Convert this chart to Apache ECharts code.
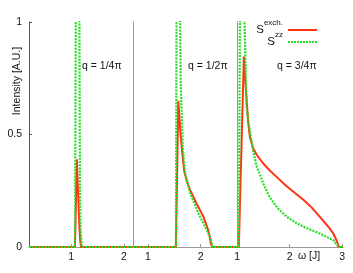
<!DOCTYPE html>
<html><head><meta charset="utf-8">
<script src="https://cdn.jsdelivr.net/npm/echarts@6/dist/echarts.min.js"></script>
<style>html,body{margin:0;padding:0;background:#fff}#c{width:353px;height:273px}</style>
</head><body><div id="c"></div>
<script>
// Panel labels and tick values
const panelLabels = ['q = 1/4π', 'q = 1/2π', 'q = 3/4π'];
const xTicks1 = [1, 2];
const xTicks2 = [1, 2];
const xTicks3 = [1, 2, 3];
const yTicks = [0, 0.5, 1];
const seriesNames = ['exch.', 'zz'];

// q = π/4  (ω [J], intensity)
const exch1 = [[0.2,0],[1.07,0],[1.107,0.39],[1.13,0.24],[1.155,0.09],[1.17,0.03],[1.185,0],[2.17,0]];
const zz1   = [[0.2,0],[1.07,0],[1.09,1.2],[1.12,4.0],[1.155,1.0],[1.165,0.3],[1.175,0.08],[1.2,0],[2.17,0]];
// q = π/2
const exch2 = [[0.72,0],[1.53,0],[1.577,0.65],[1.61,0.53],[1.64,0.446],[1.685,0.34],[1.74,0.29],[1.80,0.253],[1.92,0.194],[2.05,0.135],[2.14,0.076],[2.17,0.045],[2.19,0.016],[2.22,0],[2.68,0]];
const zz2   = [[0.72,0],[1.53,0],[1.545,1.2],[1.575,4.0],[1.61,1.0],[1.62,0.74],[1.66,0.446],[1.70,0.33],[1.736,0.30],[1.80,0.24],[1.955,0.15],[2.11,0.076],[2.18,0.04],[2.226,0],[2.68,0]];
// q = 3π/4
const exch3 = [[0.99,0],[1.03,0],[1.126,0.846],[1.164,0.70],[1.21,0.55],[1.24,0.49],[1.30,0.44],[1.37,0.41],[1.50,0.37],[1.62,0.34],[1.78,0.305],[1.94,0.27],[2.10,0.24],[2.26,0.21],[2.42,0.175],[2.57,0.135],[2.68,0.105],[2.76,0.083],[2.83,0.06],[2.89,0.03],[2.94,0],[3.01,0]];
const zz3   = [[0.99,0],[1.03,0],[1.05,1.0],[1.10,4.0],[1.14,1.0],[1.177,0.62],[1.228,0.535],[1.30,0.43],[1.37,0.357],[1.50,0.28],[1.62,0.22],[1.78,0.17],[1.94,0.135],[2.10,0.11],[2.26,0.09],[2.42,0.075],[2.57,0.06],[2.70,0.045],[2.83,0.03],[2.93,0],[3.01,0]];

const FONT = 'Liberation Sans, Arial, sans-serif';
const RED = '#ff3312';
const GREEN = '#22e022';
const chart = echarts.init(document.getElementById('c'), null, {renderer: 'canvas'});

const grids = [
  {left: 29, top: 22, width: 104, height: 225},
  {left: 133, top: 22, width: 104, height: 225},
  {left: 237, top: 22, width: 106, height: 225}
];
const ranges = [[0.2, 2.17], [0.72, 2.685], [0.995, 3.015]];
const ticks = [xTicks1, xTicks2, xTicks3];

const xAxes = ranges.map((r, i) => ({
  type: 'value', gridIndex: i, min: r[0], max: r[1],
  axisLine: {show: true, lineStyle: {color: '#999', width: 1}},
  axisTick: {show: true, inside: true, length: 3, customValues: ticks[i], lineStyle: {color: '#999'}},
  axisLabel: {show: true, customValues: ticks[i], margin: 5, color: '#111', fontSize: 10.5, fontFamily: FONT},
  splitLine: {show: false}
}));
const yAxes = [0, 1, 2].map(i => ({
  type: 'value', gridIndex: i, min: 0, max: 1, interval: 0.5,
  axisLine: {show: true, lineStyle: {color: i === 0 ? '#555' : '#999', width: 1}},
  axisTick: {show: i === 0, inside: true, length: 3, customValues: yTicks, lineStyle: {color: '#555'}},
  axisLabel: {show: i === 0, customValues: yTicks, margin: 7, color: '#111', fontSize: 10.5, fontFamily: FONT},
  splitLine: {show: false}
}));

const exData = [exch1, exch2, exch3];
const zzData = [zz1, zz2, zz3];
const series = [];
for (let i = 0; i < 3; i++) {
  series.push({type: 'line', name: seriesNames[0], xAxisIndex: i, yAxisIndex: i, data: exData[i],
    symbol: 'none', z: 2, clip: true, animation: false,
    lineStyle: {color: RED, width: 2}, itemStyle: {color: RED}});
  series.push({type: 'line', name: seriesNames[1], xAxisIndex: i, yAxisIndex: i, data: zzData[i],
    symbol: 'none', z: 3, clip: true, animation: false,
    lineStyle: {color: GREEN, width: 2.2, type: [2, 1.2]}, itemStyle: {color: GREEN}});
}

// legend sample icons: solid bar and dotted bar (29 x 2)
const solidIcon = 'path://M0,0h29v2h-29z';
let dots = '';
for (let x = 0; x < 28; x += 3) dots += 'M' + x + ',0h2v2h-2z';
const dottedIcon = 'path://' + dots;

const legend = {
  data: [{name: seriesNames[0], icon: solidIcon}, {name: seriesNames[1], icon: dottedIcon}],
  top: 19, right: 36, orient: 'vertical', align: 'right',
  padding: 0, itemGap: -10, itemWidth: 29, itemHeight: 22, symbolKeepAspect: true,
  selectedMode: false,
  formatter: n => '{s|S}{p|' + n + '}',
  textStyle: {
    color: '#111',
    rich: {
      s: {fontSize: 11.5, lineHeight: 11, fontFamily: FONT, color: '#111'},
      p: {fontSize: 8, lineHeight: 8, fontFamily: FONT, color: '#111', padding: [0, 0, 14, 0]}
    }
  }
};

const graphic = [
  {type: 'text', left: 82, top: 61, style: {text: panelLabels[0], fontSize: 10.5, fontFamily: FONT, fill: '#111'}},
  {type: 'text', left: 188, top: 61, style: {text: panelLabels[1], fontSize: 10.5, fontFamily: FONT, fill: '#111'}},
  {type: 'text', left: 277, top: 61, style: {text: panelLabels[2], fontSize: 10.5, fontFamily: FONT, fill: '#111'}},
  {type: 'text', left: 298, top: 251, style: {text: 'ω [J]', fontSize: 10.5, fontFamily: FONT, fill: '#111'}},
  {type: 'text', x: 17, y: 81, rotation: Math.PI / 2,
    style: {text: 'Intensity [A.U.]', fontSize: 10.5, fontFamily: FONT, fill: '#111', align: 'center', verticalAlign: 'middle'}}
];

chart.setOption({
  animation: false,
  backgroundColor: '#fff',
  grid: grids,
  xAxis: xAxes,
  yAxis: yAxes,
  series: series,
  legend: legend,
  graphic: graphic
});
</script></body></html>
